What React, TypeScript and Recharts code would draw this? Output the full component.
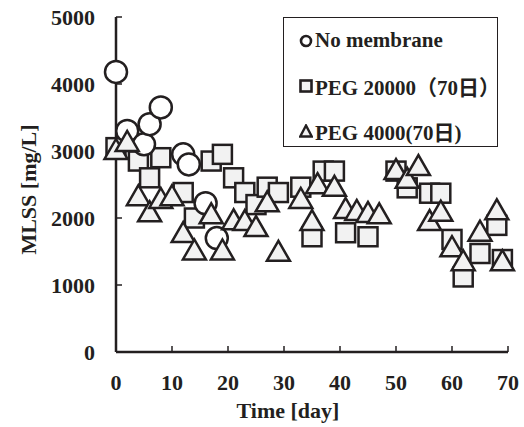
import { Legend, Scatter, ScatterChart, XAxis, YAxis } from "recharts";

const noMembraneDays = [0, 2, 5, 6, 8, 12, 13, 16, 18];
const noMembraneMlss = [4180, 3300, 3100, 3400, 3650, 2950, 2800, 2220, 1700];

const peg20000Days = [0, 4, 6, 8, 12, 14, 17, 19, 21, 23, 25, 27, 29, 33, 35, 37, 39, 41, 45, 50, 52, 56, 58, 60, 62, 65, 68, 69];
const peg20000Mlss = [3050, 2850, 2600, 2900, 2380, 2000, 2850, 2950, 2600, 2380, 2200, 2460, 2380, 2460, 1720, 2700, 2700, 1780, 1720, 2700, 2450, 2370, 2370, 1680, 1120, 1470, 1890, 1380];

const peg4000Days = [0, 2, 4, 6, 8, 10, 12, 14, 17, 19, 21, 23, 25, 27, 29, 33, 35, 36, 39, 41, 43, 45, 47, 50, 52, 54, 56, 58, 60, 62, 65, 68, 69];
const peg4000Mlss = [3000, 3120, 2310, 2070, 2270, 2310, 1760, 1500, 2040, 1500, 1950, 1940, 1850, 2220, 1480, 2270, 1940, 2490, 2450, 2120, 2090, 2060, 2040, 2700, 2570, 2760, 1940, 2080, 1550, 1340, 1780, 2100, 1340];

const xTicks = [0, 10, 20, 30, 40, 50, 60, 70];
const yTicks = [0, 1000, 2000, 3000, 4000, 5000];

const seriesNames = ["No membrane", "PEG 20000（70日）", "PEG 4000(70日)"];

const toPoints = (days: number[], vals: number[]) =>
  days.map((d, i) => ({ day: d, mlss: vals[i] }));

const INK = "#231f20";
const FONT = "'Liberation Serif', 'Times New Roman', 'Noto Sans CJK JP', serif";

const CircleShape = (p: any) => (
  <circle cx={p.cx} cy={p.cy} r={11} fill="#fff" stroke={INK} strokeWidth={2.5} />
);
const SquareShape = (p: any) => (
  <rect x={p.cx - 9.5} y={p.cy - 9.5} width={19} height={19} fill="#f2f2f2" stroke={INK} strokeWidth={2.5} />
);
const TriangleShape = (p: any) => (
  <polygon
    points={`${p.cx},${p.cy - 12} ${p.cx - 11.5},${p.cy + 8} ${p.cx + 11.5},${p.cy + 8}`}
    fill="#f2f2f2"
    stroke={INK}
    strokeWidth={2.5}
    strokeLinejoin="miter"
  />
);

function LegendMark({ name }: { name: string }) {
  return (
    <svg width={14} height={14} style={{ flex: "none" }}>
      {name === seriesNames[0] && <circle cx={7} cy={7} r={5} fill="#fff" stroke={INK} strokeWidth={2.6} />}
      {name === seriesNames[1] && <rect x={1.5} y={1.5} width={11} height={11} fill="#f2f2f2" stroke={INK} strokeWidth={2.6} />}
      {name === seriesNames[2] && <polygon points="7,1.5 1.2,12.5 12.8,12.5" fill="#f2f2f2" stroke={INK} strokeWidth={2.4} />}
    </svg>
  );
}

function LegendBox(props: any) {
  const items = [...(props.payload || [])].sort(
    (a: any, b: any) => seriesNames.indexOf(a.value) - seriesNames.indexOf(b.value)
  );
  return (
    <div style={{ display: "flex", flexDirection: "column" }}>
      {items.map((it: any) => (
        <div key={it.value} style={{ height: 45, display: "flex", alignItems: "center", paddingLeft: 15 }}>
          <LegendMark name={it.value} />
          <span style={{ marginLeft: 2, fontFamily: FONT, fontWeight: 700, fontSize: 21, color: INK, whiteSpace: "nowrap" }}>
            {it.value}
          </span>
        </div>
      ))}
    </div>
  );
}

const tickStyle = { fontFamily: FONT, fontWeight: 700, fontSize: 22, fill: INK };

export default function App() {
  return (
    <div style={{ position: "absolute", left: 0, top: 0, width: 524, height: 427, background: "#fff" }}>
      <ScatterChart width={524} height={427} margin={{ top: 17, right: 16, left: 0, bottom: 0 }}>
        <XAxis
          type="number"
          dataKey="day"
          domain={[0, 70]}
          ticks={xTicks}
          height={75}
          tickSize={-6}
          tickMargin={28}
          tick={tickStyle}
          axisLine={{ stroke: INK, strokeWidth: 2.5 }}
          tickLine={{ stroke: INK, strokeWidth: 1.5 }}
          label={{ value: "Time [day]", position: "insideBottom", offset: 9, dx: -24, style: { ...tickStyle } }}
        />
        <XAxis xAxisId="top" type="number" dataKey="day" domain={[0, 70]} orientation="top" height={0} tick={false} tickLine={false} axisLine={{ stroke: INK, strokeWidth: 2.5 }} />
        <YAxis
          type="number"
          dataKey="mlss"
          domain={[0, 5000]}
          ticks={yTicks}
          width={116}
          tickSize={-6}
          tickMargin={27}
          tick={tickStyle}
          axisLine={{ stroke: INK, strokeWidth: 2.5 }}
          tickLine={{ stroke: INK, strokeWidth: 1.5 }}
          label={{ value: "MLSS [mg/L]", angle: -90, position: "insideLeft", offset: 28, dy: 5, style: { ...tickStyle, textAnchor: "middle" } }}
        />
        <YAxis yAxisId="right" type="number" dataKey="mlss" domain={[0, 5000]} orientation="right" width={0} tick={false} tickLine={false} axisLine={{ stroke: INK, strokeWidth: 2.5 }} />
        <Legend
          layout="vertical"
          align="center"
          verticalAlign="middle"
          content={<LegendBox />}
          wrapperStyle={{
            left: 283,
            top: 17,
            width: 215,
            height: 130,
            border: `1.3px solid ${INK}`,
            background: "#fff",
            boxSizing: "border-box",
          }}
        />
        <Scatter name={seriesNames[1]} data={toPoints(peg20000Days, peg20000Mlss)} shape={SquareShape} isAnimationActive={false} />
        <Scatter name={seriesNames[0]} data={toPoints(noMembraneDays, noMembraneMlss)} shape={CircleShape} isAnimationActive={false} />
        <Scatter name={seriesNames[2]} data={toPoints(peg4000Days, peg4000Mlss)} shape={TriangleShape} isAnimationActive={false} />
      </ScatterChart>
    </div>
  );
}
